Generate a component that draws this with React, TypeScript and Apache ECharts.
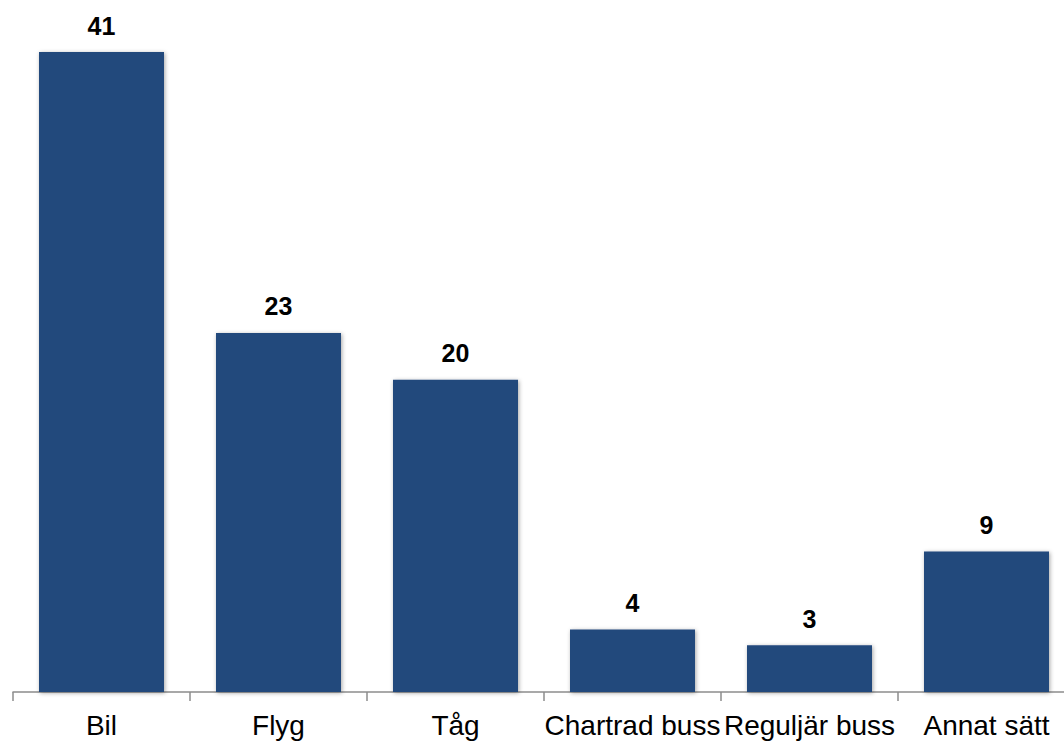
import React, { useEffect, useRef } from "react";
import * as echarts from "echarts";

const categories = ["Bil", "Flyg", "Tåg", "Chartrad buss", "Reguljär buss", "Annat sätt"];
const values = [41, 23, 20, 4, 3, 9];

export default function App() {
  const ref = useRef<HTMLDivElement>(null);
  useEffect(() => {
    if (!ref.current) return;
    const chart = echarts.init(ref.current, null, { renderer: "svg" });
    chart.setOption({
      animation: false,
      grid: { left: 13, width: 1062, top: 52, bottom: 49, containLabel: false, outerBoundsMode: "none" },
      xAxis: {
        type: "category",
        data: categories,
        axisLine: { show: true, lineStyle: { color: "#8c8c8c", width: 1.5 } },
        axisTick: { show: true, length: 9, lineStyle: { color: "#8c8c8c", width: 1.5 } },
        axisLabel: {
          color: "#000",
          fontFamily: "Liberation Sans, Arial, sans-serif",
          fontSize: 28,
          margin: 19,
          interval: 0,
          hideOverlap: false,
        },
      },
      yAxis: {
        type: "value",
        min: 0,
        max: 41,
        show: false,
        splitLine: { show: false },
      },
      series: [
        {
          type: "bar",
          data: values,
          barWidth: 125,
          itemStyle: {
            color: "#21497c",
            shadowBlur: 4,
            shadowColor: "rgba(0,0,0,0.35)",
            shadowOffsetX: 1,
            shadowOffsetY: 1,
          },
          label: {
            show: true,
            position: "top",
            distance: 14,
            color: "#000",
            fontWeight: "bold",
            fontSize: 25,
            fontFamily: "Liberation Sans, Arial, sans-serif",
          },
        },
      ],
    });
    return () => chart.dispose();
  }, []);
  return (
    <div
      ref={ref}
      style={{ position: "fixed", left: 0, top: 0, width: 1064, height: 741, background: "#fff" }}
    />
  );
}
